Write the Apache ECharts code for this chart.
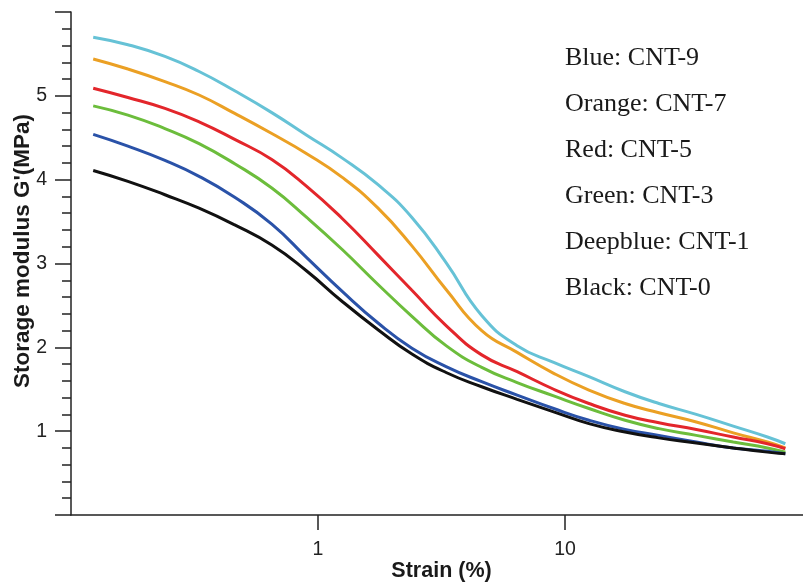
<!DOCTYPE html>
<html>
<head>
<meta charset="utf-8">
<title>Storage modulus vs strain</title>
<script src="https://cdn.jsdelivr.net/npm/echarts@6/dist/echarts.min.js"></script>
<style>
  html, body { margin: 0; padding: 0; background: #fff; }
  #main { width: 803px; height: 585px; }
</style>
</head>
<body>
<div id="main"></div>
<script>
// strain (%) sample points, shared by every curve
var strain = [0.123, 0.17, 0.24, 0.33, 0.46, 0.65, 0.9, 1.25, 1.75, 2.4, 3.3, 4.6, 6.4, 9, 12.5, 17.5, 24, 34, 48, 66, 78];

// storage modulus G' (MPa)
var cnt9 = [5.70, 5.61, 5.47, 5.29, 5.06, 4.80, 4.53, 4.26, 3.94, 3.55, 3.01, 2.38, 2.02, 1.82, 1.65, 1.47, 1.33, 1.20, 1.06, 0.93, 0.85];
var cnt7 = [5.44, 5.32, 5.17, 5.01, 4.79, 4.55, 4.31, 4.03, 3.66, 3.21, 2.69, 2.20, 1.94, 1.69, 1.49, 1.33, 1.22, 1.11, 0.98, 0.87, 0.80];
var cnt5 = [5.09, 4.98, 4.85, 4.69, 4.48, 4.24, 3.92, 3.54, 3.10, 2.68, 2.26, 1.91, 1.71, 1.50, 1.33, 1.19, 1.10, 1.02, 0.93, 0.85, 0.79];
var cnt3 = [4.88, 4.77, 4.61, 4.43, 4.19, 3.90, 3.55, 3.17, 2.75, 2.37, 2.02, 1.76, 1.58, 1.42, 1.27, 1.13, 1.03, 0.95, 0.87, 0.80, 0.75];
var cnt1 = [4.54, 4.40, 4.23, 4.04, 3.79, 3.47, 3.07, 2.67, 2.29, 1.99, 1.77, 1.59, 1.43, 1.27, 1.13, 1.02, 0.95, 0.87, 0.80, 0.76, 0.73];
var cnt0 = [4.11, 3.98, 3.82, 3.66, 3.46, 3.22, 2.91, 2.55, 2.21, 1.92, 1.70, 1.53, 1.38, 1.23, 1.09, 0.99, 0.92, 0.86, 0.80, 0.75, 0.73];

var seriesNames = ['CNT-9', 'CNT-7', 'CNT-5', 'CNT-3', 'CNT-1', 'CNT-0'];
var colorNames = ['Blue', 'Orange', 'Red', 'Green', 'Deepblue', 'Black'];
var seriesValues = [cnt9, cnt7, cnt5, cnt3, cnt1, cnt0];
var lineColors = ['#66c2d6', '#eba024', '#e3262b', '#6cbd3c', '#2a52a8', '#111111'];

var yTicks = [1, 2, 3, 4, 5];
var xTicks = [1, 10];

var myChart = echarts.init(document.getElementById('main'));

function pairs(values) {
    var out = [];
    for (var i = 0; i < strain.length; i++) {
        out.push([strain[i], values[i]]);
    }
    return out;
}

var series = [];
for (var i = 0; i < seriesNames.length; i++) {
    series.push({
        name: seriesNames[i],
        type: 'line',
        smooth: 0.5,
        showSymbol: false,
        symbol: 'none',
        lineStyle: { width: 3, color: lineColors[i] },
        itemStyle: { color: lineColors[i] },
        data: pairs(seriesValues[i])
    });
}

var option = {
    backgroundColor: '#fff',
    animation: false,
    grid: { left: 71, top: 12, width: 741, height: 503, outerBoundsMode: 'none', containLabel: false },
    legend: {
        orient: 'vertical',
        left: 555,
        top: 40,
        icon: 'none',
        itemWidth: 0,
        itemHeight: 14,
        itemGap: 20,
        selectedMode: false,
        data: seriesNames,
        formatter: function (name) {
            return colorNames[seriesNames.indexOf(name)] + ': ' + name;
        },
        textStyle: {
            fontFamily: 'Liberation Serif',
            fontSize: 26,
            lineHeight: 26,
            color: '#1a1a1a'
        }
    },
    xAxis: {
        type: 'log',
        logBase: 10,
        min: 0.1,
        max: 100,
        name: 'Strain (%)',
        nameLocation: 'middle',
        nameGap: 45,
        nameMoveOverlap: false,
        nameTextStyle: {
            fontFamily: 'Liberation Sans',
            fontWeight: 'bold',
            fontSize: 21.5,
            color: '#1a1a1a'
        },
        axisLine: { lineStyle: { color: '#222', width: 1.5 } },
        axisTick: { show: true, customValues: xTicks, length: 15, lineStyle: { color: '#222', width: 1.5 } },
        axisLabel: {
            customValues: xTicks,
            margin: 25,
            fontFamily: 'Liberation Sans',
            fontSize: 19.5,
            color: '#222'
        },
        splitLine: { show: false }
    },
    yAxis: {
        type: 'value',
        min: 0,
        max: 6,
        interval: 1,
        axisLine: { show: true, lineStyle: { color: '#222', width: 1.5 } },
        axisTick: { show: true, length: 16, lineStyle: { color: '#222', width: 1.5 } },
        minorTick: { show: true, splitNumber: 5, length: 9, lineStyle: { color: '#222', width: 1.5 } },
        axisLabel: {
            customValues: yTicks,
            margin: 24,
            fontFamily: 'Liberation Sans',
            fontSize: 19.5,
            color: '#222'
        },
        splitLine: { show: false },
        minorSplitLine: { show: false }
    },
    graphic: [{
        type: 'text',
        x: 23,
        y: 251,
        rotation: Math.PI / 2,
        style: {
            text: "Storage modulus G'(MPa)",
            fontFamily: 'Liberation Sans',
            fontWeight: 'bold',
            fontSize: 22.5,
            fill: '#1a1a1a',
            align: 'center',
            verticalAlign: 'middle'
        }
    }],
    series: series
};

myChart.setOption(option);
</script>
</body>
</html>
